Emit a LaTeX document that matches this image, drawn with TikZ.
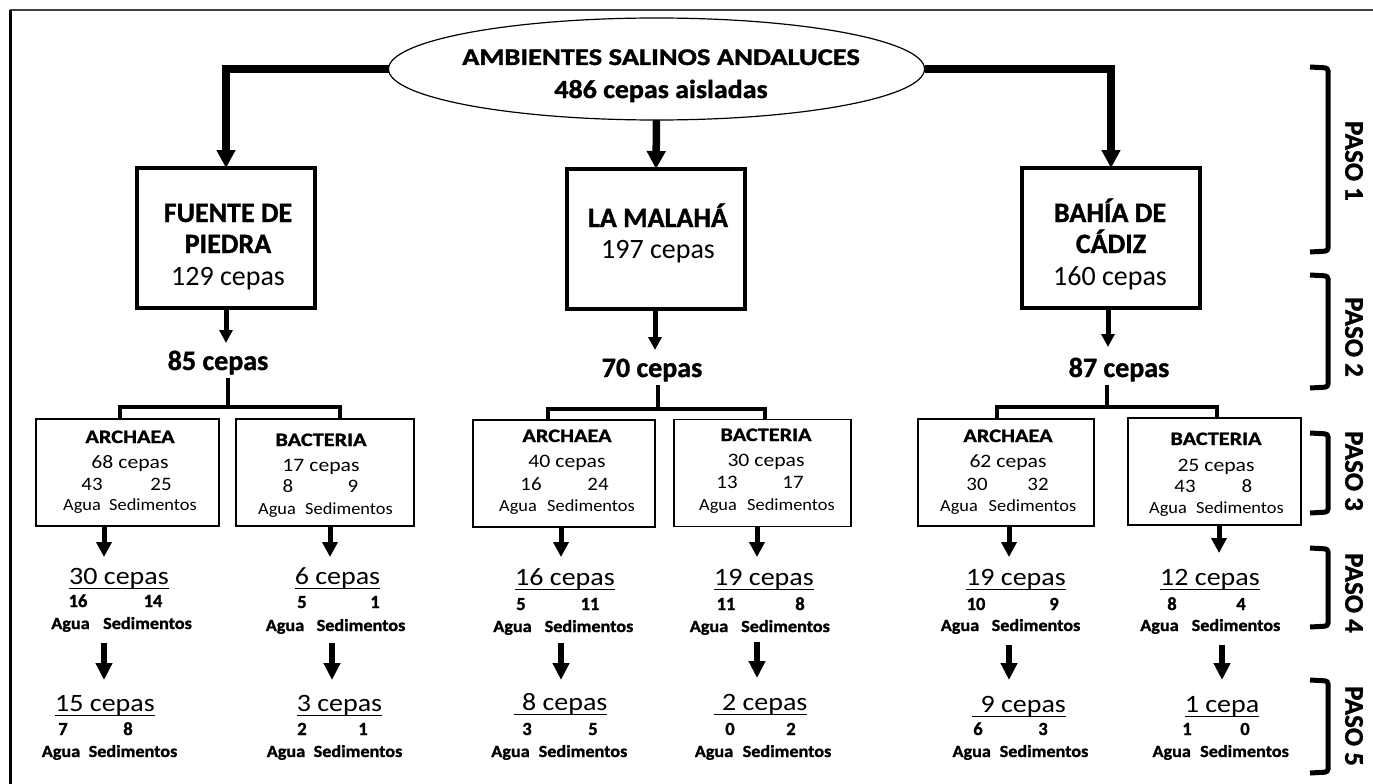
\documentclass[tikz,border=0pt]{standalone}
\usepackage{fontspec}
\setmainfont{Carlito}[BoldFeatures={FakeBold=1.2}]
\usetikzlibrary{arrows.meta,shapes.geometric}
\newcommand\fs[1]{\fontsize{#1}{#1}\selectfont}
\newcommand\sx[2]{\scalebox{#1}[1]{#2}}
% underlined count: name, x, y, text
\newcommand\UL[4]{\node[ulC] (#1) at (#2,#3) {\sx{1.12}{#4}};
  \draw[uline] ([yshift=-4.5pt]#1.base west) -- ([yshift=-4.5pt]#1.base east);}
% two numbers: prefix, style, y, x1, t1, x2, t2
\newcommand\nums[7]{\node[#2] (#1n1) at (#4,#3) {#5}; \node[#2] (#1n2) at (#6,#3) {#7};}
% words: prefix, style, y, xAgua, xSed, scale
\newcommand\words[6]{\node[#2] (#1wa) at (#4,#3) {\sx{#6}{Agua}}; \node[#2] (#1ws) at (#5,#3) {\sx{#6}{Sedimentos}};}
\begin{document}
\begin{tikzpicture}[x=1pt,y=-1pt,
  every node/.style={inner sep=0pt,outer sep=0pt},
  ellbox/.style={draw,ellipse,line width=1.2pt,minimum width=536pt,minimum height=102pt},
  bigbox/.style={draw,line width=4pt,minimum width=178pt,minimum height=140pt},
  subbox/.style={draw,line width=1.8pt,minimum height=107pt},
  ellone/.style={anchor=base,font=\fs{24}\bfseries},
  elltwo/.style={anchor=base,font=\fs{26}\bfseries},
  bigT/.style={anchor=base,font=\fs{28}\bfseries},
  bigN/.style={anchor=base,font=\fs{28}},
  midC/.style={anchor=base,font=\fs{28}\bfseries},
  subT/.style={anchor=base,font=\fs{19}\bfseries},
  subC/.style={anchor=base,font=\fs{19}},
  subD/.style={anchor=base,font=\fs{19}},
  subN/.style={anchor=base,font=\fs{17}},
  ulC/.style={anchor=base,font=\fs{25}},
  smB/.style={anchor=base,font=\fs{17}\bfseries},
  smD/.style={anchor=base,font=\fs{18.5}\bfseries},
  pasoT/.style={font=\fs{27}\bfseries,rotate=-90},
  uline/.style={line width=1.8pt},
  bigarr/.style={line width=7.5pt,-{Triangle[width=18pt,length=18pt]}},
  medarr/.style={line width=5pt,-{Triangle[width=13pt,length=13pt]}},
  subarr/.style={line width=5pt,-{Triangle[width=15pt,length=15pt]}},
  lowarr/.style={line width=5.5pt,-{Triangle[width=16pt,length=17pt]}},
  brk/.style={line width=3.5pt},
  pasobr/.style={line width=5pt,rounded corners=3pt}]
\useasboundingbox (0,0) rectangle (1373,784);
% frame
\draw[line width=1.5pt,black!75] (10,10) -- (1373,10);
\draw[line width=3pt] (10,10) -- (10,784);

% ellipse
\node[ellbox] (ell) at (656.5,69) {};
\node[ellone] (e1) at (661,65) {\sx{1.19}{AMBIENTES SALINOS ANDALUCES}};
\node[elltwo] (e2) at (661,98) {\sx{1.075}{486 cepas aisladas}};

% big boxes
\node[bigbox] (fuente) at (226,238) {};
\node[bigT] (f1) at (228,222) {FUENTE DE};
\node[bigT] (f2) at (228,253) {PIEDRA};
\node[bigN] (f3) at (228,285) {129 cepas};
\node[bigbox] (malaha) at (656,239) {};
\node[bigT] (m1) at (658,227) {LA MALAHÁ};
\node[bigN] (m2) at (658,258) {197 cepas};
\node[bigbox] (bahia) at (1111,238) {};
\node[bigT] (b1) at (1110,222) {BAHÍA DE};
\node[bigT] (b2) at (1111,253) {CÁDIZ};
\node[bigN] (b3) at (1110,285) {160 cepas};

\draw[bigarr] (ell.west) -| (fuente.north);
\draw[bigarr] (ell.south) -- (malaha.north);
\draw[bigarr] (ell.east) -| (bahia.north);

% paso 2 counts
\node[midC] (c85) at (218,370) {85 cepas};
\node[midC] (c70) at (652,377) {70 cepas};
\node[midC] (c87) at (1119,377) {87 cepas};
\coordinate (t1) at (226,343);
\coordinate (t2) at (655,350);
\coordinate (t3) at (1108,347);
\draw[medarr] (fuente.south -| t1) -- (t1);
\draw[medarr] (malaha.south -| t2) -- (t2);
\draw[medarr] (bahia.south -| t3) -- (t3);

% sub boxes
\node[subbox,minimum width=183pt] (archL) at (127.5,472.5) {};
\node[subbox,minimum width=178pt] (bactL) at (325,472.5) {};
\node[subbox,minimum width=182pt] (archM) at (564,473.5) {};
\node[subbox,minimum width=177pt] (bactM) at (762.5,473) {};
\node[subbox,minimum width=176pt] (archR) at (1006,472.5) {};
\node[subbox,minimum width=173pt] (bactR) at (1214.5,471.5) {};

% brackets to sub boxes
\coordinate (j1) at (228,407); \coordinate (dL1) at (120,407); \coordinate (dL2) at (340,407);
\coordinate (j2) at (658,409); \coordinate (dM1) at (548,409); \coordinate (dM2) at (765,409);
\coordinate (j3) at (1107,407); \coordinate (dR1) at (997,407); \coordinate (dR2) at (1217,407);
\draw[brk] ([yshift=-4pt]c85.south -| j1) -- (j1);
\draw[brk] (archL.north -| dL1) -- (dL1) -- (dL2) -- (dL2 |- bactL.north);
\draw[brk] ([yshift=-4pt]c70.south -| j2) -- (j2);
\draw[brk] (archM.north -| dM1) -- (dM1) -- (dM2) -- (dM2 |- bactM.north);
\draw[brk] ([yshift=-4pt]c87.south -| j3) -- (j3);
\draw[brk] (archR.north -| dR1) -- (dR1) -- (dR2) -- (dR2 |- bactR.north);

% sub box texts
\node[subT] (aLt) at (130,443) {\sx{1.17}{ARCHAEA}};
\node[subC] (aLc) at (130,468) {\sx{1.14}{68 cepas}};
\nums{aL}{subD}{490}{92}{\sx{1.1}{43}}{161}{\sx{1.1}{25}}
\words{aL}{subN}{510}{82}{153}{1.08}
\node[subT] (bLt) at (321,446) {\sx{1.17}{BACTERIA}};
\node[subC] (bLc) at (321,471) {\sx{1.14}{17 cepas}};
\nums{bL}{subD}{492}{288}{\sx{1.1}{8}}{353}{\sx{1.1}{9}}
\words{bL}{subN}{514}{277}{349}{1.08}
\node[subT] (aMt) at (567,442) {\sx{1.17}{ARCHAEA}};
\node[subC] (aMc) at (567,467) {\sx{1.14}{40 cepas}};
\nums{aM}{subD}{490}{531}{\sx{1.1}{16}}{598}{\sx{1.1}{24}}
\words{aM}{subN}{511}{518}{591}{1.08}
\node[subT] (bMt) at (766,441) {\sx{1.17}{BACTERIA}};
\node[subC] (bMc) at (766,466) {\sx{1.14}{30 cepas}};
\nums{bM}{subD}{488}{727}{\sx{1.1}{13}}{793}{\sx{1.1}{17}}
\words{bM}{subN}{510}{718}{791}{1.08}
\node[subT] (aRt) at (1008,442) {\sx{1.17}{ARCHAEA}};
\node[subC] (aRc) at (1008,467) {\sx{1.14}{62 cepas}};
\nums{aR}{subD}{490}{977}{\sx{1.1}{30}}{1038}{\sx{1.1}{32}}
\words{aR}{subN}{511}{959}{1032.5}{1.08}
\node[subT] (bRt) at (1216,445) {\sx{1.17}{BACTERIA}};
\node[subC] (bRc) at (1216,471) {\sx{1.14}{25 cepas}};
\nums{bR}{subD}{492}{1185}{\sx{1.1}{43}}{1247}{\sx{1.1}{8}}
\words{bR}{subN}{513}{1168}{1240}{1.08}

% arrows sub box -> paso 4
\coordinate (u1) at (104,557); \coordinate (u2) at (330,557);
\coordinate (u3) at (561,557); \coordinate (u4) at (757,557);
\coordinate (u5) at (1009,557); \coordinate (u6) at (1219,553);
\draw[subarr] (archL.south -| u1) -- (u1);
\draw[subarr] (bactL.south -| u2) -- (u2);
\draw[subarr] (archM.south -| u3) -- (u3);
\draw[subarr] (bactM.south -| u4) -- (u4);
\draw[subarr] (archR.south -| u5) -- (u5);
\draw[subarr] (bactR.south -| u6) -- (u6);

% paso 4
\UL{q1}{119}{584}{30 cepas}
\nums{q1}{smD}{607}{78}{16}{153}{14}
\words{q1}{smB}{629}{70.5}{147.5}{1.07}
\UL{q2}{337.5}{584}{6 cepas}
\nums{q2}{smD}{608}{302}{5}{375}{1}
\words{q2}{smB}{631}{285}{361}{1.07}
\UL{q3}{565}{585}{16 cepas}
\nums{q3}{smD}{610}{521}{5}{590}{11}
\words{q3}{smB}{632}{512.5}{589}{1.07}
\UL{q4}{764}{585}{19 cepas}
\nums{q4}{smD}{610}{726}{11}{800}{8}
\words{q4}{smB}{632}{709}{785.5}{1.07}
\UL{q5}{1016}{585}{19 cepas}
\nums{q5}{smD}{610}{976}{10}{1054}{9}
\words{q5}{smB}{631}{960}{1036}{1.07}
\UL{q6}{1210}{585}{12 cepas}
\nums{q6}{smD}{610}{1172}{8}{1241}{4}
\words{q6}{smB}{631}{1159.5}{1236}{1.07}

% arrows paso 4 -> paso 5
\coordinate (s1) at (104,643); \coordinate (v1) at (104,680);
\coordinate (s2) at (332,643); \coordinate (v2) at (332,680);
\coordinate (s3) at (561,643); \coordinate (v3) at (561,680);
\coordinate (s4) at (757,642); \coordinate (v4) at (757,678);
\coordinate (s5) at (1009,645); \coordinate (v5) at (1009,680);
\coordinate (s6) at (1222,645); \coordinate (v6) at (1222,680);
\draw[lowarr] (s1) -- (v1);
\draw[lowarr] (s2) -- (v2);
\draw[lowarr] (s3) -- (v3);
\draw[lowarr] (s4) -- (v4);
\draw[lowarr] (s5) -- (v5);
\draw[lowarr] (s6) -- (v6);

% paso 5
\UL{r1}{105}{711}{15 cepas}
\nums{r1}{smD}{735}{63}{7}{128}{8}
\words{r1}{smB}{757}{61}{133}{1.07}
\UL{r2}{339.5}{711}{3 cepas}
\nums{r2}{smD}{735}{302}{2}{363}{1}
\words{r2}{smB}{757}{286}{358}{1.07}
\UL{r3}{560.5}{710}{\hspace{0.3em}8 cepas}
\nums{r3}{smD}{735}{527}{3}{593}{5}
\words{r3}{smB}{757}{510.5}{583}{1.07}
\UL{r4}{760.5}{710}{\hspace{0.3em}2 cepas}
\nums{r4}{smD}{735}{730}{0}{791}{2}
\words{r4}{smB}{757}{714}{787}{1.07}
\UL{r5}{1019}{712}{\hspace{0.3em}9 cepas}
\nums{r5}{smD}{735}{978}{6}{1043}{3}
\words{r5}{smB}{757}{971.7}{1044}{1.07}
\UL{r6}{1222}{712}{1 cepa}
\nums{r6}{smD}{735}{1187}{1}{1245}{0}
\words{r6}{smB}{757}{1171.7}{1244.5}{1.07}

% PASO brackets
\draw[pasobr] (1310,67) -- (1328,68) -- (1328,251) -- (1310,252);
\draw[pasobr] (1310,275) -- (1328,276) -- (1328,387) -- (1310,388);
\draw[pasobr] (1310,433) -- (1328,434) -- (1328,512) -- (1310,513);
\draw[pasobr] (1310,548) -- (1328,549) -- (1328,626) -- (1310,627);
\draw[pasobr] (1310,680) -- (1328,681) -- (1328,772) -- (1310,773);
\node[pasoT] (p1) at (1354,161) {PASO 1};
\node[pasoT] (p2) at (1354,337) {PASO 2};
\node[pasoT] (p3) at (1354,471) {PASO 3};
\node[pasoT] (p4) at (1354,593) {PASO 4};
\node[pasoT] (p5) at (1354,726) {PASO 5};
\end{tikzpicture}
\end{document}
